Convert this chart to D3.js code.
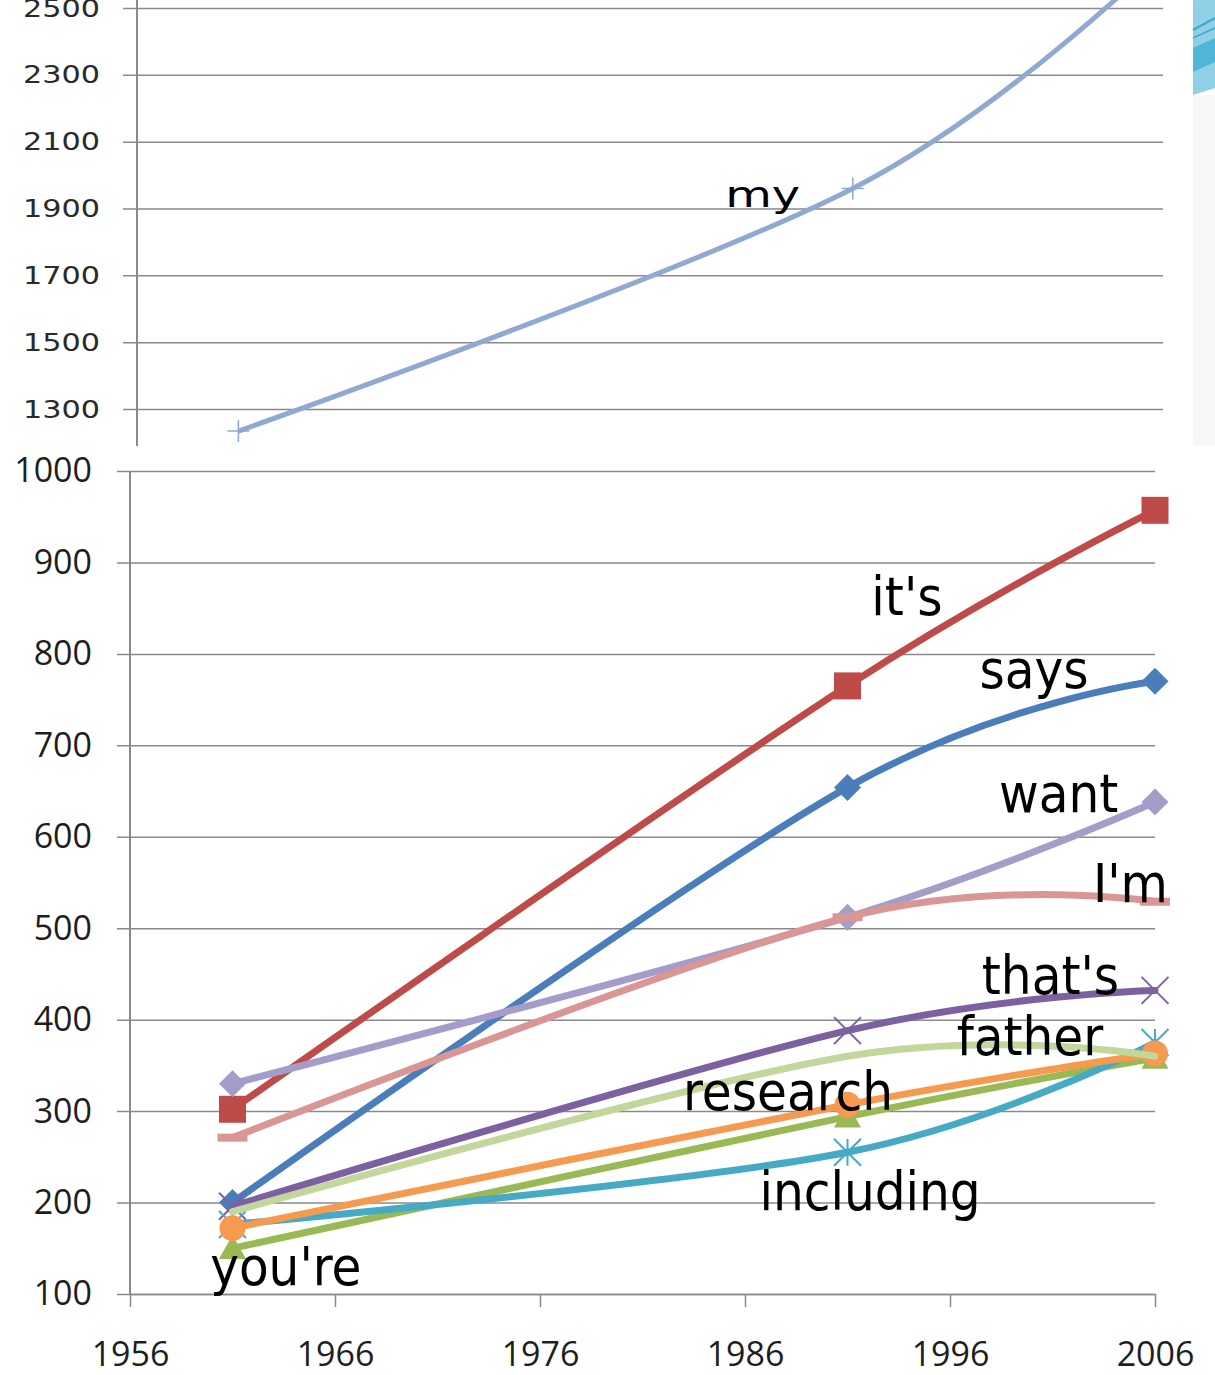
<!DOCTYPE html>
<html>
<head>
<meta charset="utf-8">
<script src="https://cdn.jsdelivr.net/npm/d3@7"></script>
<style>
  body { margin: 0; background: #fff; }
  svg { display: block; }
  .grid line { stroke: #8a8a8a; stroke-width: 1.5; }
  .grid path { display: none; }
  .ytop text { font-family: 'DejaVu Sans', Verdana, sans-serif; font-size: 25px; fill: #2a2a2a; }
  .ybot text, .xbot text { font-family: 'Open Sans', 'Noto Sans', sans-serif; font-size: 34px; fill: #1e1e1e; }
  .xbot line, .xbot path { stroke: #8a8a8a; stroke-width: 1.5; }
  .word { font-family: 'DejaVu Sans Condensed', 'DejaVu Sans', sans-serif; font-size: 54px; fill: #000; }
</style>
</head>
<body>
<script>
'use strict'

// years that have a value in every series
const years = [1961, 1991, 2006]

// series values
const myValues = [1234, 1960, 2650]
const saysValues = [200, 654, 770]
const itsValues = [302, 765, 957]
const youreValues = [150, 294, 358]
const thatsValues = [196, 388, 432]
const includingValues = [176, 255, 375]
const researchValues = [172, 307, 363]
const wantValues = [330, 512, 638]
const imValues = [271, 512, 529]
const fatherValues = [190, 360, 360]

const topTicks = [1300, 1500, 1700, 1900, 2100, 2300, 2500]
const bottomTicks = [100, 200, 300, 400, 500, 600, 700, 800, 900, 1000]
const yearTicks = [1956, 1966, 1976, 1986, 1996, 2006]

const series = [
  { name: 'says', values: saysValues },
  { name: "it's", values: itsValues },
  { name: "you're", values: youreValues },
  { name: "that's", values: thatsValues },
  { name: 'including', values: includingValues },
  { name: 'research', values: researchValues },
  { name: 'want', values: wantValues },
  { name: "I'm", values: imValues },
  { name: 'father', values: fatherValues }
]

// look of each series
const styles = {
  my: { color: '#8fa9d3', marker: 'plus' },
  says: { color: '#4a7ebb', marker: 'diamond' },
  "it's": { color: '#be4b48', marker: 'square' },
  "you're": { color: '#98b954', marker: 'triangle' },
  "that's": { color: '#7d60a0', marker: 'x' },
  including: { color: '#46aac5', marker: 'asterisk' },
  research: { color: '#f59a4e', marker: 'circle' },
  want: { color: '#a49dca', marker: 'diamond' },
  "I'm": { color: '#d99694', marker: 'dash' },
  father: { color: '#c3d69b', marker: 'none' }
}

// where the word labels sit, in data units (year, value of baseline)
const labelPlaces = {
  "it's": [1993.9, 843],
  says: [2000.1, 763],
  want: [2001.3, 627],
  "I'm": [2004.8, 529],
  "that's": [2000.9, 428],
  father: [1999.9, 361],
  research: [1988.1, 301],
  including: [1992.1, 192],
  "you're": [1963.6, 110]
}

const svg = d3.select('body').append('svg')
  .attr('width', 1215)
  .attr('height', 1375)

// slide decoration at the top right
const deco = svg.append('g')
deco.append('rect').attr('x', 1193).attr('y', 95).attr('width', 22).attr('height', 350).attr('fill', '#f5f7f9')
deco.append('polygon').attr('points', '1193,0 1215,0 1215,88 1193,95').attr('fill', '#8fd0e6')
deco.append('polygon').attr('points', '1193,48 1215,38 1215,62 1193,72').attr('fill', '#4fb6d8')
deco.append('line').attr('x1', 1193).attr('y1', 30).attr('x2', 1215).attr('y2', 18).attr('stroke', '#3aa9d2').attr('stroke-width', 2)
deco.append('line').attr('x1', 1193).attr('y1', 38).attr('x2', 1215).attr('y2', 28).attr('stroke', '#3aa9d2').attr('stroke-width', 1.5)

const curve = d3.curveCardinal.tension(0)

const markerPath = (type, s) => {
  const h = s / 2
  if (type === 'square') return `M${-h},${-h}H${h}V${h}H${-h}Z`
  if (type === 'diamond') return `M0,${-h}L${h},0L0,${h}L${-h},0Z`
  if (type === 'triangle') return `M0,${-h}L${h},${h * 0.8}L${-h},${h * 0.8}Z`
  if (type === 'circle') return d3.symbol(d3.symbolCircle, Math.PI * h * h)()
  if (type === 'x') return `M${-h},${-h}L${h},${h}M${h},${-h}L${-h},${h}`
  if (type === 'asterisk') return `M${-h},${-h}L${h},${h}M${h},${-h}L${-h},${h}M0,${-h}V${h}`
  if (type === 'plus') return `M${-h},0H${h}M0,${-h}V${h}`
  if (type === 'dash') return `M${-h},0H${h}`
  return ''
}
const filled = (type) => ['square', 'diamond', 'triangle', 'circle'].includes(type)

// ---------- top panel: "my" ----------
const xTop = d3.scaleLinear().domain([1956, 2006]).range([136, 1160])
const yTop = d3.scaleLinear().domain([1300, 2500]).range([409, 8])

svg.append('defs').append('clipPath').attr('id', 'topclip')
  .append('rect').attr('x', 0).attr('y', 0).attr('width', 1193).attr('height', 446)

const topPanel = svg.append('g').attr('clip-path', 'url(#topclip)')

topPanel.append('g')
  .attr('class', 'grid ytop')
  .attr('transform', 'translate(123,0)')
  .call(d3.axisLeft(yTop).tickValues(topTicks).tickFormat(d3.format('d')).tickSize(-(1163 - 123)).tickPadding(23))
  .selectAll('text')
  .attr('textLength', 77)
  .attr('lengthAdjust', 'spacingAndGlyphs')

topPanel.append('line')
  .attr('x1', 137).attr('x2', 137).attr('y1', 0).attr('y2', 446)
  .attr('stroke', '#8a8a8a').attr('stroke-width', 2)

const myLine = d3.line().x((d, i) => xTop(years[i])).y((d) => yTop(d)).curve(curve)
topPanel.append('path')
  .attr('d', myLine(myValues))
  .attr('fill', 'none')
  .attr('stroke', styles.my.color)
  .attr('stroke-width', 5)

topPanel.selectAll('.mymark')
  .data(myValues.slice(0, 2))
  .enter().append('path')
  .attr('transform', (d, i) => `translate(${xTop(years[i])},${yTop(d)})`)
  .attr('d', markerPath('plus', 22))
  .attr('stroke', styles.my.color)
  .attr('stroke-width', 1.5)

topPanel.append('text')
  .attr('class', 'word')
  .attr('x', xTop(1986.6))
  .attr('y', yTop(1905))
  .attr('text-anchor', 'middle')
  .style('font-size', '36px')
  .attr('textLength', 75)
  .attr('lengthAdjust', 'spacingAndGlyphs')
  .text('my')

// ---------- bottom panel ----------
const x = d3.scaleLinear().domain([1956, 2006]).range([130, 1155])
const y = d3.scaleLinear().domain([100, 1000]).range([1294, 471])

svg.append('g')
  .attr('class', 'grid ybot')
  .attr('transform', 'translate(117,0)')
  .call(d3.axisLeft(y).tickValues(bottomTicks).tickFormat(d3.format('d')).tickSize(-(1155 - 117)).tickPadding(25))

svg.append('line')
  .attr('x1', 130).attr('x2', 130).attr('y1', 471).attr('y2', 1294)
  .attr('stroke', '#8a8a8a').attr('stroke-width', 2)

svg.append('g')
  .attr('class', 'xbot')
  .attr('transform', 'translate(0,1294)')
  .call(d3.axisBottom(x).tickValues(yearTicks).tickFormat(d3.format('d')).tickSize(13).tickSizeOuter(0).tickPadding(35))

const line = d3.line().x((d, i) => x(years[i])).y((d) => y(d)).curve(curve)

const groups = svg.selectAll('.series')
  .data(series)
  .enter().append('g')
  .attr('class', 'series')

groups.append('path')
  .attr('d', (s) => line(s.values))
  .attr('fill', 'none')
  .attr('stroke', (s) => styles[s.name].color)
  .attr('stroke-width', 7)
  .attr('stroke-linecap', 'round')

groups.each(function (s) {
  const st = styles[s.name]
  if (st.marker === 'none') return
  const size = st.marker === 'dash' ? 30 : (st.marker === 'circle' ? 26 : 27)
  d3.select(this).selectAll('.mark')
    .data(s.values)
    .enter().append('path')
    .attr('transform', (d, i) => `translate(${x(years[i])},${y(d)})`)
    .attr('d', markerPath(st.marker, size))
    .attr('fill', filled(st.marker) ? st.color : 'none')
    .attr('stroke', st.color)
    .attr('stroke-width', st.marker === 'dash' ? 8 : (filled(st.marker) ? 0 : 2))
})

svg.selectAll('.label')
  .data(series)
  .enter().append('text')
  .attr('class', 'word')
  .attr('x', (s) => x(labelPlaces[s.name][0]))
  .attr('y', (s) => y(labelPlaces[s.name][1]))
  .attr('text-anchor', 'middle')
  .text((s) => s.name)
</script>
</body>
</html>
